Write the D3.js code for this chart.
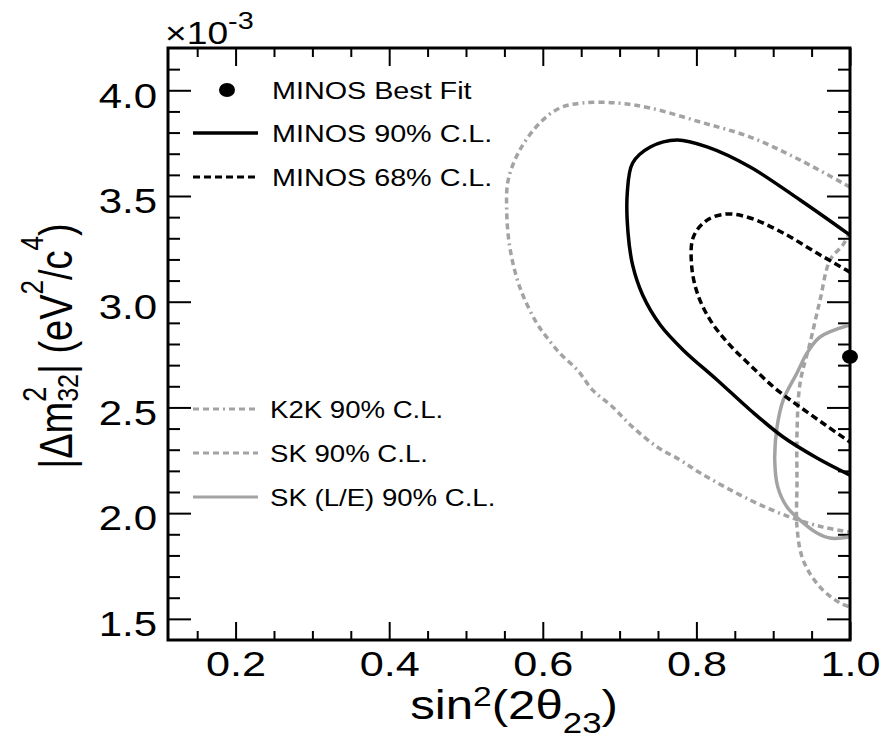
<!DOCTYPE html>
<html lang="en">

<head>
    <meta charset="UTF-8">
    <title>MINOS contours</title>
    <style>
        body { margin: 0; background: #fff; }
        text { font-family: "Liberation Sans", Arial, Helvetica, sans-serif; fill: #000; }
    </style>
</head>

<body>
    <svg id="svg" width="884" height="742"></svg>

    <script src="https://d3js.org/d3.v7.min.js"></script>
    <script>
        // tick labels
        const xMajor = [0.2, 0.4, 0.6, 0.8, 1.0]
        const yMajor = [1.5, 2.0, 2.5, 3.0, 3.5, 4.0]

        // MINOS best fit point (sin^2, dm^2 x1e-3)
        const bestFit = [1.0, 2.74]

        // contours
        const k2kX = [1.0, 0.935, 0.870, 0.805, 0.740, 0.697, 0.652, 0.622, 0.596, 0.570, 0.555, 0.553, 0.557, 0.570, 0.592, 0.605, 0.622, 0.645, 0.665, 0.691, 0.717, 0.749, 0.779, 0.805, 0.870, 0.922, 0.965, 1.0]
        const k2kY = [3.542, 3.670, 3.779, 3.850, 3.916, 3.940, 3.940, 3.916, 3.845, 3.717, 3.576, 3.434, 3.259, 3.069, 2.899, 2.833, 2.757, 2.677, 2.582, 2.502, 2.407, 2.313, 2.251, 2.190, 2.062, 1.981, 1.934, 1.910]

        const minos90X = [1.0, 0.935, 0.870, 0.814, 0.775, 0.740, 0.717, 0.710, 0.711, 0.717, 0.730, 0.753, 0.783, 0.827, 0.870, 0.913, 0.957, 1.0]
        const minos90Y = [3.315, 3.481, 3.637, 3.732, 3.765, 3.732, 3.656, 3.514, 3.325, 3.173, 3.032, 2.890, 2.771, 2.630, 2.488, 2.360, 2.261, 2.180]

        const minos68X = [1.0, 0.957, 0.913, 0.870, 0.840, 0.814, 0.796, 0.794, 0.802, 0.818, 0.841, 0.870, 0.902, 0.935, 0.968, 1.0]
        const minos68Y = [3.140, 3.230, 3.325, 3.396, 3.415, 3.386, 3.306, 3.164, 3.032, 2.913, 2.805, 2.700, 2.592, 2.502, 2.417, 2.336]

        const skX = [1.0, 0.991, 0.974, 0.961, 0.948, 0.935, 0.931, 0.931, 0.931, 0.939, 0.961, 0.987, 1.0]
        const skY = [3.33, 3.27, 3.197, 3.008, 2.805, 2.615, 2.379, 2.142, 1.934, 1.778, 1.650, 1.575, 1.556]

        const skLEX = [1.0, 0.961, 0.944, 0.931, 0.913, 0.905, 0.902, 0.906, 0.918, 0.935, 0.957, 0.974, 1.0]
        const skLEY = [2.890, 2.833, 2.757, 2.663, 2.535, 2.407, 2.251, 2.123, 2.029, 1.967, 1.906, 1.882, 1.887]

        const legendTopLabels = ['MINOS Best Fit', 'MINOS 90% C.L.', 'MINOS 68% C.L.']
        const legendBottomLabels = ['K2K 90% C.L.', 'SK 90% C.L.', 'SK (L/E) 90% C.L.']

        const SX = 1.2 // the picture is a bit wider than tall
        const GREY = '#a3a3a3'
        const pLeft = 168, pRight = 850, pTop = 48, pBottom = 640

        const svg = d3.select('#svg')

        const x = d3.scaleLinear().domain([0.112, 1.0]).range([pLeft, pRight])
        const y = d3.scaleLinear().domain([1.4, 4.2]).range([pBottom, pTop])

        const xMinor = d3.range(0.15, 1.001, 0.05).filter(v => !xMajor.some(m => Math.abs(m - v) < 1e-6))
        const yMinor = d3.range(1.5, 4.15, 0.1).filter(v => !yMajor.some(m => Math.abs(m - v) < 1e-6))

        function cleanAxis(g) {
            g.attr('font-size', null).attr('font-family', null)
            g.select('.domain').remove()
            g.selectAll('.tick line').attr('stroke-width', 2)
        }

        // minor ticks, all four sides
        svg.append('g').attr('transform', `translate(0,${pBottom})`)
            .call(d3.axisBottom(x).tickValues(xMinor).tickSize(-9).tickSizeOuter(0).tickFormat(''))
            .call(cleanAxis)
        svg.append('g').attr('transform', `translate(0,${pTop})`)
            .call(d3.axisTop(x).tickValues(xMinor).tickSize(-9).tickSizeOuter(0).tickFormat(''))
            .call(cleanAxis)
        svg.append('g').attr('transform', `translate(${pLeft},0)`)
            .call(d3.axisLeft(y).tickValues(yMinor).tickSize(-12).tickSizeOuter(0).tickFormat(''))
            .call(cleanAxis)
        svg.append('g').attr('transform', `translate(${pRight},0)`)
            .call(d3.axisRight(y).tickValues(yMinor).tickSize(-12).tickSizeOuter(0).tickFormat(''))
            .call(cleanAxis)

        // major ticks
        svg.append('g').attr('transform', `translate(0,${pBottom})`)
            .call(d3.axisBottom(x).tickValues(xMajor).tickSize(-18).tickSizeOuter(0).tickPadding(10).tickFormat(d3.format('.1f')))
            .call(cleanAxis)
            .call(g => g.selectAll('text').attr('transform', `scale(${SX},1)`).style('font-size', '36px'))
        svg.append('g').attr('transform', `translate(0,${pTop})`)
            .call(d3.axisTop(x).tickValues(xMajor).tickSize(-18).tickSizeOuter(0).tickFormat(''))
            .call(cleanAxis)
        svg.append('g').attr('transform', `translate(${pLeft},0)`)
            .call(d3.axisLeft(y).tickValues(yMajor).tickSize(-23).tickSizeOuter(0).tickFormat(d3.format('.1f')))
            .call(cleanAxis)
            .call(g => g.selectAll('text').attr('x', 0).attr('dy', '0.48em')
                .attr('transform', `translate(-11,0) scale(${SX},1)`).style('font-size', '35px'))
        svg.append('g').attr('transform', `translate(${pRight},0)`)
            .call(d3.axisRight(y).tickValues(yMajor).tickSize(-23).tickSizeOuter(0).tickFormat(''))
            .call(cleanAxis)

        // contours
        svg.append('clipPath').attr('id', 'plotclip')
            .append('rect').attr('x', pLeft).attr('y', pTop).attr('width', pRight - pLeft).attr('height', pBottom - pTop)

        const line = d3.line()
            .x(d => x(d[0]))
            .y(d => y(d[1]))
            .curve(d3.curveCatmullRom.alpha(0.5))

        const contours = [
            { xs: k2kX, ys: k2kY, color: GREY, dash: '6,4,6,4,6,4,2,4' },
            { xs: skX, ys: skY, color: GREY, dash: '6,4' },
            { xs: skLEX, ys: skLEY, color: GREY, dash: null },
            { xs: minos90X, ys: minos90Y, color: '#000', dash: null },
            { xs: minos68X, ys: minos68Y, color: '#000', dash: '7,4' }
        ]

        svg.append('g').attr('clip-path', 'url(#plotclip)')
            .selectAll('path')
            .data(contours)
            .enter()
            .append('path')
            .attr('d', c => line(c.xs.map((v, i) => [v, c.ys[i]])))
            .attr('fill', 'none')
            .attr('stroke', c => c.color)
            .attr('stroke-width', 3.5)
            .attr('stroke-dasharray', c => c.dash)

        // frame
        svg.append('rect')
            .attr('x', pLeft).attr('y', pTop)
            .attr('width', pRight - pLeft).attr('height', pBottom - pTop)
            .attr('fill', 'none').attr('stroke', '#000').attr('stroke-width', 3)

        // best fit
        svg.append('ellipse')
            .attr('cx', x(bestFit[0])).attr('cy', y(bestFit[1]))
            .attr('rx', 8).attr('ry', 7)
            .attr('fill', '#000')

        function label(x0, y0, anchor, size, sx = SX) {
            return svg.append('text')
                .attr('transform', `translate(${x0},${y0}) scale(${sx},1)`)
                .attr('text-anchor', anchor)
                .style('font-size', size + 'px')
        }

        // legend, upper block
        const topRows = [90, 133, 177]
        svg.append('ellipse').attr('cx', 227).attr('cy', topRows[0]).attr('rx', 8).attr('ry', 7).attr('fill', '#000')
        svg.append('line').attr('x1', 193).attr('x2', 258).attr('y1', topRows[1]).attr('y2', topRows[1])
            .attr('stroke', '#000').attr('stroke-width', 3.5)
        svg.append('line').attr('x1', 193).attr('x2', 258).attr('y1', topRows[2]).attr('y2', topRows[2])
            .attr('stroke', '#000').attr('stroke-width', 3).attr('stroke-dasharray', '7,4')
        legendTopLabels.forEach((t, i) => label(272, topRows[i] + 9, 'start', 23, 1.25).text(t))

        // legend, lower block
        const botRows = [409, 453, 497]
        const botStyles = [
            { dash: '6,4,6,4,6,4,2,4' },
            { dash: '6,4' },
            { dash: null }
        ]
        botStyles.forEach((s, i) => {
            svg.append('line').attr('x1', 193).attr('x2', 258).attr('y1', botRows[i]).attr('y2', botRows[i])
                .attr('stroke', GREY).attr('stroke-width', 3).attr('stroke-dasharray', s.dash)
        })
        legendBottomLabels.forEach((t, i) => label(270, botRows[i] + 9, 'start', 23, 1.2).text(t))

        // x10^-3
        const exp = label(165, 44, 'start', 31)
        exp.append('tspan').text('×10')
        exp.append('tspan').attr('dy', -15).style('font-size', '24px').text('-3')

        // x title
        const xt = label(514, 719, 'middle', 41)
        xt.append('tspan').text('sin')
        xt.append('tspan').attr('dy', -13).style('font-size', '28px').text('2')
        xt.append('tspan').attr('dy', 13).text('(2θ')
        xt.append('tspan').attr('dy', 14).style('font-size', '29px').text('23')
        xt.append('tspan').attr('dy', -14).text(')')

        // y title
        const yt = svg.append('text')
            .attr('transform', `translate(72,346) scale(${SX},1) rotate(-90)`)
            .attr('text-anchor', 'middle')
            .style('font-size', '38px')
        yt.append('tspan').text('|Δm')
        yt.append('tspan').attr('dy', -22).style('font-size', '27px').text('2')
        yt.append('tspan').attr('dx', -15).attr('dy', 27).style('font-size', '25px').text('32')
        yt.append('tspan').attr('dy', -5).text('| (eV')
        yt.append('tspan').attr('dy', -24).style('font-size', '26px').text('2')
        yt.append('tspan').attr('dy', 24).text('/c')
        yt.append('tspan').attr('dy', -24).style('font-size', '26px').text('4')
        yt.append('tspan').attr('dy', 24).text(')')
    </script>
</body>

</html>
